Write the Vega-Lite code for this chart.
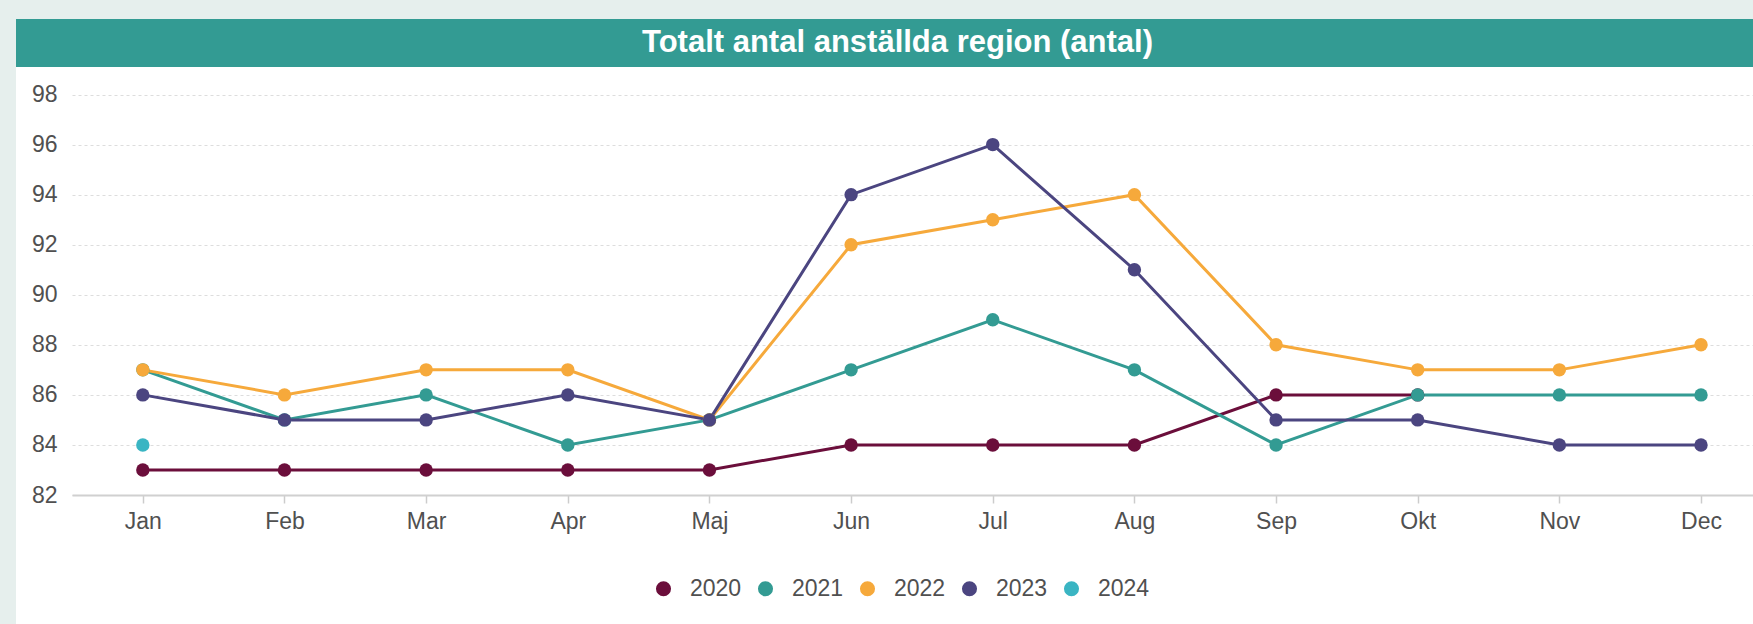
{
  "$schema": "https://vega.github.io/schema/vega-lite/v6.json",
  "padding": 0,
  "background": "white",
  "spacing": 0,
  "config": {"view": {"stroke": null}, "concat": {"spacing": 0}},
  "vconcat": [
    {
      "width": 1753,
      "height": 19,
      "data": {"values": []},
      "mark": "point",
      "view": {"fill": "#e6efed", "stroke": null}
    },
    {
      "spacing": 0,
      "hconcat": [
        {
          "width": 16,
          "height": 605,
          "data": {"values": []},
          "mark": "point",
          "view": {"fill": "#e6efed", "stroke": null}
        },
        {
          "spacing": 0,
          "vconcat": [
            {
              "width": 1737,
              "height": 48,
              "data": {"values": [{"title": "Totalt antal anställda region (antal)"}]},
              "mark": {"type": "text", "color": "white", "font": "Liberation Sans", "fontSize": 31, "fontWeight": "bold", "align": "center", "baseline": "middle", "dx": 13},
              "encoding": {"text": {"field": "title"}},
              "view": {"fill": "#339b93", "stroke": null}
            },
            {
              "width": 1737,
              "height": 428,
              "data": {"values": [
                {"month": 1, "year": "2020", "value": 83},
                {"month": 2, "year": "2020", "value": 83},
                {"month": 3, "year": "2020", "value": 83},
                {"month": 4, "year": "2020", "value": 83},
                {"month": 5, "year": "2020", "value": 83},
                {"month": 6, "year": "2020", "value": 84},
                {"month": 7, "year": "2020", "value": 84},
                {"month": 8, "year": "2020", "value": 84},
                {"month": 9, "year": "2020", "value": 86},
                {"month": 10, "year": "2020", "value": 86},
                {"month": 1, "year": "2021", "value": 87},
                {"month": 2, "year": "2021", "value": 85},
                {"month": 3, "year": "2021", "value": 86},
                {"month": 4, "year": "2021", "value": 84},
                {"month": 5, "year": "2021", "value": 85},
                {"month": 6, "year": "2021", "value": 87},
                {"month": 7, "year": "2021", "value": 89},
                {"month": 8, "year": "2021", "value": 87},
                {"month": 9, "year": "2021", "value": 84},
                {"month": 10, "year": "2021", "value": 86},
                {"month": 11, "year": "2021", "value": 86},
                {"month": 12, "year": "2021", "value": 86},
                {"month": 1, "year": "2022", "value": 87},
                {"month": 2, "year": "2022", "value": 86},
                {"month": 3, "year": "2022", "value": 87},
                {"month": 4, "year": "2022", "value": 87},
                {"month": 5, "year": "2022", "value": 85},
                {"month": 6, "year": "2022", "value": 92},
                {"month": 7, "year": "2022", "value": 93},
                {"month": 8, "year": "2022", "value": 94},
                {"month": 9, "year": "2022", "value": 88},
                {"month": 10, "year": "2022", "value": 87},
                {"month": 11, "year": "2022", "value": 87},
                {"month": 12, "year": "2022", "value": 88},
                {"month": 1, "year": "2023", "value": 86},
                {"month": 2, "year": "2023", "value": 85},
                {"month": 3, "year": "2023", "value": 85},
                {"month": 4, "year": "2023", "value": 86},
                {"month": 5, "year": "2023", "value": 85},
                {"month": 6, "year": "2023", "value": 94},
                {"month": 7, "year": "2023", "value": 96},
                {"month": 8, "year": "2023", "value": 91},
                {"month": 9, "year": "2023", "value": 85},
                {"month": 10, "year": "2023", "value": 85},
                {"month": 11, "year": "2023", "value": 84},
                {"month": 12, "year": "2023", "value": 84},
                {"month": 1, "year": "2024", "value": 84}
              ]},
              "encoding": {
                "x": {
                  "field": "month", "type": "quantitative",
                  "scale": {"domain": [0.5, 12.367], "range": [56, 1737], "nice": false, "zero": false},
                  "axis": {
                    "title": null, "values": [1,2,3,4,5,6,7,8,9,10,11,12],
                    "labelExpr": "['Jan','Feb','Mar','Apr','Maj','Jun','Jul','Aug','Sep','Okt','Nov','Dec'][datum.value-1]",
                    "grid": false, "domainColor": "#d0d0d0", "domainWidth": 2,
                    "tickColor": "#cccccc", "tickSize": 8, "tickWidth": 1.5,
                    "labelPadding": 7, "labelFont": "Liberation Sans", "labelFontSize": 23, "labelColor": "#505050",
                    "labelFlush": false, "labelOverlap": false
                  }
                },
                "y": {
                  "field": "value", "type": "quantitative",
                  "scale": {"domain": [82, 99.1], "nice": false, "zero": false},
                  "axis": {
                    "title": null, "values": [82,84,86,88,90,92,94,96,98],
                    "domain": false, "ticks": false, "grid": true, "offset": -56,
                    "gridColor": "#dddddd", "gridDash": [3, 3], "gridWidth": 1,
                    "labelPadding": 15, "labelFont": "Liberation Sans", "labelFontSize": 23, "labelColor": "#505050",
                    "minExtent": 0, "labelFlush": false
                  }
                },
                "color": {
                  "field": "year", "type": "nominal",
                  "scale": {"domain": ["2020","2021","2022","2023","2024"], "range": ["#6b0e3b","#339b93","#f6a93b","#4b4580","#3ab5c3"]},
                  "legend": {
                    "title": null, "orient": "none", "direction": "horizontal",
                    "legendX": 652, "legendY": 577,
                    "symbolType": "circle", "symbolSize": 227, "symbolStrokeWidth": 0, "symbolOpacity": 1,
                    "labelFont": "Liberation Sans", "labelFontSize": 23, "labelColor": "#505050",
                    "labelOffset": 15, "columnPadding": 12, "padding": 0,
                    "encode": {"symbols": {"update": {"fill": {"scale": "color", "field": "value"}, "strokeWidth": {"value": 0}, "opacity": {"value": 1}}}}
                  }
                }
              },
              "layer": [
                {
                  "mark": {"type": "line", "strokeWidth": 3}
                },
                {
                  "mark": {"type": "point", "filled": true, "size": 180, "opacity": 1, "shape": "circle"}
                }
              ]
            }
          ]
        }
      ]
    }
  ]
}
